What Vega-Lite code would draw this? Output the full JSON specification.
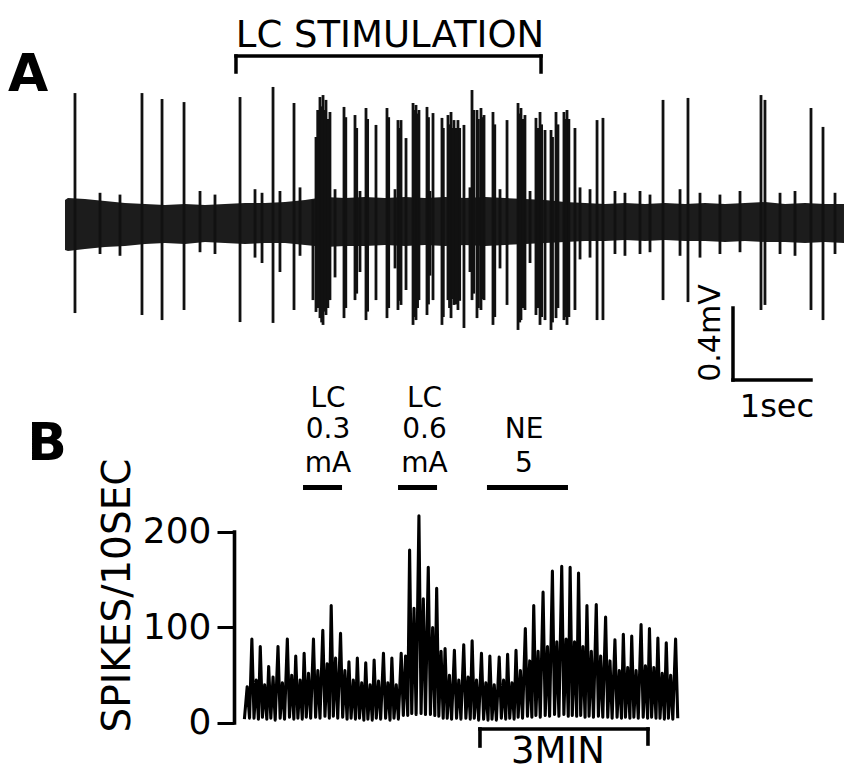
{
"$schema": "https://vega.github.io/schema/vega-lite/v6.json",
"width": 610, "height": 772,
"padding": {"left": 234, "top": 0, "right": 0, "bottom": 0},
"autosize": {"type": "none"},
"background": "white",
"config": {"view": {"stroke": null}, "font": "DejaVu Sans"},
"datasets": {
"bandA": [
{"t":0,"top":0.100,"bot":-0.178},{"t":0.038,"top":0.111,"bot":-0.183},{"t":0.256,"top":0.106,"bot":-0.172},{"t":0.513,"top":0.094,"bot":-0.161},{"t":0.769,"top":0.083,"bot":-0.156},{"t":1.026,"top":0.078,"bot":-0.144},{"t":1.282,"top":0.072,"bot":-0.139},{"t":1.538,"top":0.078,"bot":-0.144},{"t":1.795,"top":0.072,"bot":-0.133},{"t":2.051,"top":0.078,"bot":-0.139},{"t":2.308,"top":0.083,"bot":-0.144},{"t":2.564,"top":0.083,"bot":-0.139},{"t":2.821,"top":0.089,"bot":-0.139},{"t":3.077,"top":0.100,"bot":-0.150},{"t":3.333,"top":0.117,"bot":-0.161},{"t":3.590,"top":0.111,"bot":-0.156},{"t":3.846,"top":0.117,"bot":-0.156},{"t":4.103,"top":0.111,"bot":-0.150},{"t":4.359,"top":0.117,"bot":-0.156},{"t":4.615,"top":0.111,"bot":-0.150},{"t":4.872,"top":0.117,"bot":-0.156},{"t":5.128,"top":0.111,"bot":-0.150},{"t":5.385,"top":0.117,"bot":-0.156},{"t":5.641,"top":0.111,"bot":-0.150},{"t":5.897,"top":0.106,"bot":-0.144},{"t":6.154,"top":0.100,"bot":-0.139},{"t":6.410,"top":0.089,"bot":-0.133},{"t":6.667,"top":0.083,"bot":-0.128},{"t":6.923,"top":0.078,"bot":-0.128},{"t":7.179,"top":0.083,"bot":-0.122},{"t":7.436,"top":0.078,"bot":-0.128},{"t":7.692,"top":0.083,"bot":-0.122},{"t":7.949,"top":0.078,"bot":-0.128},{"t":8.205,"top":0.083,"bot":-0.128},{"t":8.462,"top":0.078,"bot":-0.133},{"t":8.718,"top":0.083,"bot":-0.128},{"t":8.974,"top":0.089,"bot":-0.133},{"t":9.231,"top":0.078,"bot":-0.133},{"t":9.487,"top":0.083,"bot":-0.139},{"t":9.744,"top":0.078,"bot":-0.133},{"t":9.987,"top":0.078,"bot":-0.139}
],
"spikesA": [
{"t":0.128,"hi":0.694,"lo":-0.528},{"t":0.987,"hi":0.694,"lo":-0.539},{"t":1.244,"hi":0.661,"lo":-0.567},{"t":1.526,"hi":0.644,"lo":-0.511},{"t":2.244,"hi":0.672,"lo":-0.578},{"t":2.667,"hi":0.728,"lo":-0.583},{"t":2.936,"hi":0.639,"lo":-0.511},{"t":3.179,"hi":0.1,"lo":-0.456},{"t":3.218,"hi":0.450,"lo":-0.522},{"t":3.269,"hi":0.672,"lo":-0.556},{"t":3.308,"hi":0.683,"lo":-0.594},{"t":3.346,"hi":0.656,"lo":-0.539},{"t":3.397,"hi":0.589,"lo":-0.456},{"t":3.577,"hi":0.617,"lo":-0.556},{"t":3.718,"hi":0.572,"lo":-0.456},{"t":3.859,"hi":0.611,"lo":-0.567},{"t":3.987,"hi":0.517,"lo":-0.456},{"t":4.128,"hi":0.611,"lo":-0.556},{"t":4.269,"hi":0.544,"lo":-0.511},{"t":4.308,"hi":0.544,"lo":-0.483},{"t":4.372,"hi":0.444,"lo":-0.400},{"t":4.462,"hi":0.639,"lo":-0.594},{"t":4.500,"hi":0.628,"lo":-0.567},{"t":4.538,"hi":0.600,"lo":-0.456},{"t":4.641,"hi":0.617,"lo":-0.539},{"t":4.718,"hi":0.583,"lo":-0.456},{"t":4.833,"hi":0.556,"lo":-0.594},{"t":4.910,"hi":0.572,"lo":-0.456},{"t":4.949,"hi":0.589,"lo":-0.556},{"t":4.987,"hi":0.544,"lo":-0.483},{"t":5.038,"hi":0.544,"lo":-0.511},{"t":5.115,"hi":0.517,"lo":-0.611},{"t":5.218,"hi":0.711,"lo":-0.456},{"t":5.282,"hi":0.600,"lo":-0.556},{"t":5.333,"hi":0.611,"lo":-0.511},{"t":5.372,"hi":0.572,"lo":-0.456},{"t":5.487,"hi":0.589,"lo":-0.594},{"t":5.667,"hi":0.544,"lo":-0.483},{"t":5.808,"hi":0.639,"lo":-0.622},{"t":5.846,"hi":0.611,"lo":-0.567},{"t":5.897,"hi":0.572,"lo":-0.511},{"t":6.038,"hi":0.556,"lo":-0.539},{"t":6.090,"hi":0.589,"lo":-0.594},{"t":6.154,"hi":0.489,"lo":-0.567},{"t":6.231,"hi":0.489,"lo":-0.622},{"t":6.295,"hi":0.589,"lo":-0.556},{"t":6.397,"hi":0.589,"lo":-0.567},{"t":6.436,"hi":0.600,"lo":-0.594},{"t":6.538,"hi":0.500,"lo":-0.511},{"t":6.821,"hi":0.544,"lo":-0.567},{"t":6.897,"hi":0.556,"lo":-0.567},{"t":7.667,"hi":0.656,"lo":-0.456},{"t":7.987,"hi":0.667,"lo":-0.467},{"t":8.923,"hi":0.683,"lo":-0.511},{"t":8.974,"hi":0.656,"lo":-0.483},{"t":9.564,"hi":0.611,"lo":-0.511},{"t":9.718,"hi":0.506,"lo":-0.567},
{"t":3.24,"hi":0.60,"lo":-0.50},{"t":3.29,"hi":0.62,"lo":-0.58},{"t":3.33,"hi":0.60,"lo":-0.52},{"t":3.37,"hi":0.55,"lo":-0.50},{"t":3.60,"hi":0.56,"lo":-0.50},{"t":3.74,"hi":0.50,"lo":-0.42},{"t":3.88,"hi":0.55,"lo":-0.52},{"t":4.15,"hi":0.56,"lo":-0.50},{"t":4.29,"hi":0.50,"lo":-0.46},{"t":4.48,"hi":0.60,"lo":-0.55},{"t":4.52,"hi":0.58,"lo":-0.50},{"t":4.66,"hi":0.56,"lo":-0.48},{"t":4.85,"hi":0.50,"lo":-0.55},{"t":4.93,"hi":0.52,"lo":-0.50},{"t":4.97,"hi":0.50,"lo":-0.45},{"t":5.01,"hi":0.50,"lo":-0.48},{"t":5.06,"hi":0.50,"lo":-0.46},{"t":5.24,"hi":0.60,"lo":-0.42},{"t":5.30,"hi":0.55,"lo":-0.50},{"t":5.35,"hi":0.56,"lo":-0.45},{"t":5.51,"hi":0.52,"lo":-0.55},{"t":5.83,"hi":0.58,"lo":-0.58},{"t":5.87,"hi":0.55,"lo":-0.50},{"t":6.06,"hi":0.50,"lo":-0.50},{"t":6.11,"hi":0.52,"lo":-0.55},{"t":6.25,"hi":0.45,"lo":-0.58},{"t":6.32,"hi":0.52,"lo":-0.50},{"t":6.42,"hi":0.55,"lo":-0.55},{"t":6.46,"hi":0.55,"lo":-0.55},
{"t":0.449,"hi":0.14,"lo":-0.2},{"t":0.705,"hi":0.13,"lo":-0.21},{"t":1.731,"hi":0.15,"lo":-0.19},{"t":1.923,"hi":0.13,"lo":-0.2},{"t":2.436,"hi":0.16,"lo":-0.22},{"t":2.526,"hi":0.14,"lo":-0.25},{"t":2.756,"hi":0.15,"lo":-0.3},{"t":3.013,"hi":0.17,"lo":-0.21},{"t":3.462,"hi":0.16,"lo":-0.33},{"t":3.782,"hi":0.15,"lo":-0.3},{"t":4.231,"hi":0.16,"lo":-0.28},{"t":4.679,"hi":0.15,"lo":-0.32},{"t":5.192,"hi":0.17,"lo":-0.3},{"t":5.577,"hi":0.16,"lo":-0.28},{"t":5.962,"hi":0.15,"lo":-0.25},{"t":6.603,"hi":0.17,"lo":-0.23},{"t":6.731,"hi":0.16,"lo":-0.22},{"t":7.051,"hi":0.15,"lo":-0.2},{"t":7.179,"hi":0.14,"lo":-0.21},{"t":7.372,"hi":0.15,"lo":-0.2},{"t":7.5,"hi":0.13,"lo":-0.19},{"t":7.885,"hi":0.16,"lo":-0.21},{"t":8.141,"hi":0.14,"lo":-0.22},{"t":8.397,"hi":0.13,"lo":-0.2},{"t":8.654,"hi":0.15,"lo":-0.19},{"t":9.167,"hi":0.14,"lo":-0.2},{"t":9.359,"hi":0.15,"lo":-0.21},{"t":9.872,"hi":0.14,"lo":-0.2}
],
"linesA": [
{"t":2.192,"t2":6.103,"mv":0.9,"mv2":0.9},{"t":2.192,"t2":2.192,"mv":0.9,"mv2":0.811},{"t":6.103,"t2":6.103,"mv":0.9,"mv2":0.811},
{"t":8.564,"t2":8.564,"mv":-0.5,"mv2":-0.9},{"t":8.564,"t2":9.564,"mv":-0.9,"mv2":-0.9}
],
"textA": [
{"t":4.167,"mv":0.95,"txt":"LC STIMULATION"}
],
"rateB": [
{"s":9,"v":4},{"s":12,"v":38},{"s":14.5,"v":5},
{"s":17,"v":88},{"s":19.3,"v":5},{"s":21.7,"v":45},{"s":24,"v":4},
{"s":26,"v":80},{"s":28.3,"v":6},{"s":30.7,"v":40},{"s":33,"v":4},
{"s":35,"v":59},{"s":37.3,"v":5},{"s":39.7,"v":48},{"s":42,"v":3},
{"s":45,"v":80},{"s":47.3,"v":5},{"s":49.7,"v":42},{"s":52,"v":4},
{"s":55,"v":88},{"s":57.3,"v":6},{"s":59.7,"v":50},{"s":62,"v":4},
{"s":64,"v":70},{"s":66.3,"v":5},{"s":68.7,"v":45},{"s":71,"v":4},
{"s":73,"v":73},{"s":75.3,"v":6},{"s":77.7,"v":52},{"s":80,"v":5},
{"s":83,"v":88},{"s":85.3,"v":6},{"s":87.7,"v":55},{"s":90,"v":5},
{"s":93,"v":97},{"s":95.3,"v":7},{"s":97.7,"v":62},{"s":100,"v":5},
{"s":102,"v":123},{"s":104.3,"v":7},{"s":106.7,"v":68},{"s":109,"v":5},
{"s":112,"v":94},{"s":114.3,"v":6},{"s":116.7,"v":55},{"s":119,"v":4},
{"s":121,"v":64},{"s":123.3,"v":5},{"s":125.7,"v":45},{"s":128,"v":4},
{"s":130,"v":68},{"s":132.3,"v":5},{"s":134.7,"v":42},{"s":137,"v":3},
{"s":139,"v":63},{"s":141.3,"v":4},{"s":143.7,"v":40},{"s":146,"v":3},
{"s":148,"v":66},{"s":150.3,"v":5},{"s":152.7,"v":44},{"s":155,"v":4},
{"s":158,"v":73},{"s":160.3,"v":5},{"s":162.7,"v":42},{"s":165,"v":3},
{"s":167,"v":68},{"s":169.3,"v":5},{"s":171.7,"v":40},{"s":174,"v":4},
{"s":177,"v":73},{"s":179.3,"v":8},{"s":181.7,"v":70},{"s":184,"v":8},
{"s":186,"v":181},{"s":188.3,"v":10},{"s":190.7,"v":120},{"s":193,"v":9},
{"s":196,"v":217},{"s":198.3,"v":10},{"s":200.7,"v":130},{"s":203,"v":9},
{"s":206,"v":163},{"s":208.3,"v":9},{"s":210.7,"v":100},{"s":213,"v":8},
{"s":215,"v":141},{"s":217.3,"v":7},{"s":219.7,"v":75},{"s":222,"v":5},
{"s":224,"v":78},{"s":226.3,"v":5},{"s":228.7,"v":50},{"s":231,"v":4},
{"s":234,"v":76},{"s":236.3,"v":5},{"s":238.7,"v":45},{"s":241,"v":4},
{"s":244,"v":82},{"s":246.3,"v":5},{"s":248.7,"v":48},{"s":251,"v":4},
{"s":253,"v":86},{"s":255.3,"v":5},{"s":257.7,"v":45},{"s":260,"v":3},
{"s":263,"v":73},{"s":265.3,"v":4},{"s":267.7,"v":42},{"s":270,"v":3},
{"s":272,"v":70},{"s":274.3,"v":4},{"s":276.7,"v":40},{"s":279,"v":3},
{"s":282,"v":69},{"s":284.3,"v":5},{"s":286.7,"v":45},{"s":289,"v":4},
{"s":291,"v":72},{"s":293.3,"v":5},{"s":295.7,"v":42},{"s":298,"v":4},
{"s":300,"v":76},{"s":302.3,"v":6},{"s":304.7,"v":55},{"s":307,"v":5},
{"s":310,"v":99},{"s":312.3,"v":7},{"s":314.7,"v":65},{"s":317,"v":6},
{"s":319,"v":123},{"s":321.3,"v":8},{"s":323.7,"v":75},{"s":326,"v":6},
{"s":329,"v":137},{"s":331.3,"v":8},{"s":333.7,"v":80},{"s":336,"v":7},
{"s":339,"v":159},{"s":341.3,"v":9},{"s":343.7,"v":85},{"s":346,"v":7},
{"s":349,"v":164},{"s":351.3,"v":9},{"s":353.7,"v":88},{"s":356,"v":7},
{"s":358,"v":163},{"s":360.3,"v":8},{"s":362.7,"v":85},{"s":365,"v":7},
{"s":367,"v":157},{"s":369.3,"v":8},{"s":371.7,"v":80},{"s":374,"v":6},
{"s":376,"v":123},{"s":378.3,"v":7},{"s":380.7,"v":75},{"s":383,"v":6},
{"s":386,"v":124},{"s":388.3,"v":7},{"s":390.7,"v":70},{"s":393,"v":6},
{"s":396,"v":111},{"s":398.3,"v":6},{"s":400.7,"v":65},{"s":403,"v":5},
{"s":406,"v":87},{"s":408.3,"v":6},{"s":410.7,"v":55},{"s":413,"v":5},
{"s":415,"v":93},{"s":417.3,"v":6},{"s":419.7,"v":58},{"s":422,"v":5},
{"s":424,"v":91},{"s":426.3,"v":6},{"s":428.7,"v":55},{"s":431,"v":5},
{"s":434,"v":103},{"s":436.3,"v":6},{"s":438.7,"v":60},{"s":441,"v":5},
{"s":443,"v":99},{"s":445.3,"v":6},{"s":447.7,"v":58},{"s":450,"v":5},
{"s":452,"v":89},{"s":454.3,"v":5},{"s":456.7,"v":52},{"s":459,"v":4},
{"s":461,"v":84},{"s":463.3,"v":5},{"s":465.7,"v":50},{"s":468,"v":4},
{"s":471,"v":88},{"s":473.3,"v":5}
],
"labelsB": [
{"s":98.6,"v":330.9,"txt":"LC"},{"s":98.6,"v":298.4,"txt":"0.3"},{"s":98.6,"v":262.8,"txt":"mA"},
{"s":202,"v":330.9,"txt":"LC"},{"s":202,"v":298.4,"txt":"0.6"},{"s":202,"v":262.8,"txt":"mA"},
{"s":308.6,"v":298.4,"txt":"NE"},{"s":308.6,"v":262.8,"txt":"5"}
],
"linesB": [
{"part":"ul","s":71.8,"s2":113.6,"v":246.6,"v2":246.6},
{"part":"ul","s":173.6,"s2":215.4,"v":246.6,"v2":246.6},
{"part":"ul","s":268.9,"s2":355.7,"v":246.6,"v2":246.6},
{"part":"bar","s":261.4,"s2":441.4,"v":-6.3,"v2":-6.3},
{"part":"bar","s":261.4,"s2":261.4,"v":-6.3,"v2":-24.1},
{"part":"bar","s":441.4,"s2":441.4,"v":-6.3,"v2":-22.0},
{"part":"axis","s":-1.6,"s2":-1.6,"v":0,"v2":200}
]
},
"layer": [
{"data": {"name": "rateB"}, "mark": {"type": "line", "color": "#000", "strokeWidth": 3.1, "strokeJoin": "round"},
 "encoding": {
  "x": {"field": "s", "type": "quantitative", "scale": {"domain": [-2.143, 651.43], "nice": false, "zero": false}, "axis": null},
  "y": {"field": "v", "type": "quantitative", "scale": {"domain": [-51.31, 757.07], "nice": false, "zero": false},
   "axis": {"orient": "left", "values": [0, 100, 200], "domain": false, "grid": false, "ticks": true, "tickSize": 17, "tickWidth": 3, "tickColor": "#000", "labelFont": "DejaVu Sans", "labelFontSize": 36, "labelColor": "#000", "labelPadding": 6, "labelFlush": false, "labelOverlap": false,
    "title": "SPIKES/10SEC", "titleFont": "DejaVu Sans", "titleFontSize": 39, "titleFontWeight": "normal", "titleColor": "#000", "titleX": -117, "titleY": 595, "titleAngle": 270, "titleAlign": "center", "titleBaseline": "middle"}}}},
{"data": {"name": "linesB"}, "transform": [{"filter": "datum.part === 'ul'"}], "mark": {"type": "rule", "color": "#000", "strokeWidth": 5},
 "encoding": {"x": {"field": "s", "type": "quantitative", "scale": {"domain": [-2.143, 651.43], "nice": false, "zero": false}, "axis": null}, "x2": {"field": "s2"}, "y": {"field": "v", "type": "quantitative", "scale": {"domain": [-51.31, 757.07], "nice": false, "zero": false}, "axis": null}, "y2": {"field": "v2"}}},
{"data": {"name": "linesB"}, "transform": [{"filter": "datum.part !== 'ul'"}], "mark": {"type": "rule", "color": "#000", "strokeWidth": 3.6, "strokeCap": "square"},
 "encoding": {"x": {"field": "s", "type": "quantitative", "scale": {"domain": [-2.143, 651.43], "nice": false, "zero": false}, "axis": null}, "x2": {"field": "s2"}, "y": {"field": "v", "type": "quantitative", "scale": {"domain": [-51.31, 757.07], "nice": false, "zero": false}, "axis": null}, "y2": {"field": "v2"}}},
{"data": {"name": "labelsB"}, "mark": {"type": "text", "font": "DejaVu Sans", "fontSize": 28, "align": "center", "baseline": "alphabetic", "color": "#000"},
 "encoding": {"x": {"field": "s", "type": "quantitative", "scale": {"domain": [-2.143, 651.43], "nice": false, "zero": false}, "axis": null}, "y": {"field": "v", "type": "quantitative", "scale": {"domain": [-51.31, 757.07], "nice": false, "zero": false}, "axis": null}, "text": {"field": "txt"}}},
{"data": {"values": [{"s": -202.5, "v": 275.4, "txt": "B"}]}, "mark": {"type": "text", "font": "DejaVu Sans", "fontWeight": "bold", "fontSize": 52, "align": "center", "baseline": "alphabetic", "color": "#000"},
 "encoding": {"x": {"field": "s", "type": "quantitative", "scale": {"domain": [-2.143, 651.43], "nice": false, "zero": false}, "axis": null}, "y": {"field": "v", "type": "quantitative", "scale": {"domain": [-51.31, 757.07], "nice": false, "zero": false}, "axis": null}, "text": {"field": "txt"}}},
{"data": {"values": [{"s": 345.0, "v": -50.3, "txt": "3MIN"}]}, "mark": {"type": "text", "font": "DejaVu Sans", "fontSize": 37, "align": "center", "baseline": "bottom", "color": "#000"},
 "encoding": {"x": {"field": "s", "type": "quantitative", "scale": {"domain": [-2.143, 651.43], "nice": false, "zero": false}, "axis": null}, "y": {"field": "v", "type": "quantitative", "scale": {"domain": [-51.31, 757.07], "nice": false, "zero": false}, "axis": null}, "text": {"field": "txt"}}},
{"data": {"name": "bandA"}, "mark": {"type": "area", "color": "#1c1c1c"},
 "encoding": {
  "x": {"field": "t", "type": "quantitative", "scale": {"domain": [2.1667, 9.9872], "nice": false, "zero": false}, "axis": null},
  "y": {"field": "top", "type": "quantitative", "scale": {"domain": [-3.0778, 1.2111], "nice": false, "zero": false}, "axis": null},
  "y2": {"field": "bot"}}},
{"data": {"name": "spikesA"}, "mark": {"type": "rule", "color": "#111", "strokeWidth": 2.8},
 "encoding": {
  "x": {"field": "t", "type": "quantitative", "scale": {"domain": [2.1667, 9.9872], "nice": false, "zero": false}, "axis": null},
  "y": {"field": "hi", "type": "quantitative", "scale": {"domain": [-3.0778, 1.2111], "nice": false, "zero": false}, "axis": null},
  "y2": {"field": "lo"}}},
{"data": {"name": "linesA"}, "mark": {"type": "rule", "color": "#000", "strokeWidth": 3.5, "strokeCap": "square"},
 "encoding": {
  "x": {"field": "t", "type": "quantitative", "scale": {"domain": [2.1667, 9.9872], "nice": false, "zero": false}, "axis": null}, "x2": {"field": "t2"},
  "y": {"field": "mv", "type": "quantitative", "scale": {"domain": [-3.0778, 1.2111], "nice": false, "zero": false}, "axis": null}, "y2": {"field": "mv2"}}},
{"data": {"values": [{"t": -0.474, "mv": 0.706, "txt": "A"}]}, "mark": {"type": "text", "font": "DejaVu Sans", "fontWeight": "bold", "fontSize": 52, "align": "center", "baseline": "alphabetic", "color": "#000"},
 "encoding": {"x": {"field": "t", "type": "quantitative", "scale": {"domain": [2.1667, 9.9872], "nice": false, "zero": false}, "axis": null}, "y": {"field": "mv", "type": "quantitative", "scale": {"domain": [-3.0778, 1.2111], "nice": false, "zero": false}, "axis": null}, "text": {"field": "txt"}}},
{"data": {"name": "textA"}, "mark": {"type": "text", "font": "DejaVu Sans", "fontSize": 37, "align": "center", "baseline": "alphabetic", "color": "#000"},
 "encoding": {"x": {"field": "t", "type": "quantitative", "scale": {"domain": [2.1667, 9.9872], "nice": false, "zero": false}, "axis": null}, "y": {"field": "mv", "type": "quantitative", "scale": {"domain": [-3.0778, 1.2111], "nice": false, "zero": false}, "axis": null}, "text": {"field": "txt"}}},
{"data": {"values": [{"t": 9.128, "mv": -1.106, "txt": "1sec"}]}, "mark": {"type": "text", "font": "DejaVu Sans", "fontSize": 32, "align": "center", "baseline": "alphabetic", "color": "#000"},
 "encoding": {"x": {"field": "t", "type": "quantitative", "scale": {"domain": [2.1667, 9.9872], "nice": false, "zero": false}, "axis": null}, "y": {"field": "mv", "type": "quantitative", "scale": {"domain": [-3.0778, 1.2111], "nice": false, "zero": false}, "axis": null}, "text": {"field": "txt"}}},
{"data": {"values": [{"t": 8.282, "mv": -0.639, "txt": "0.4mV"}]}, "mark": {"type": "text", "font": "DejaVu Sans", "fontSize": 30, "angle": 270, "align": "center", "baseline": "middle", "color": "#000"},
 "encoding": {"x": {"field": "t", "type": "quantitative", "scale": {"domain": [2.1667, 9.9872], "nice": false, "zero": false}, "axis": null}, "y": {"field": "mv", "type": "quantitative", "scale": {"domain": [-3.0778, 1.2111], "nice": false, "zero": false}, "axis": null}, "text": {"field": "txt"}}}
],
"resolve": {"scale": {"x": "independent", "y": "independent"}}
}
